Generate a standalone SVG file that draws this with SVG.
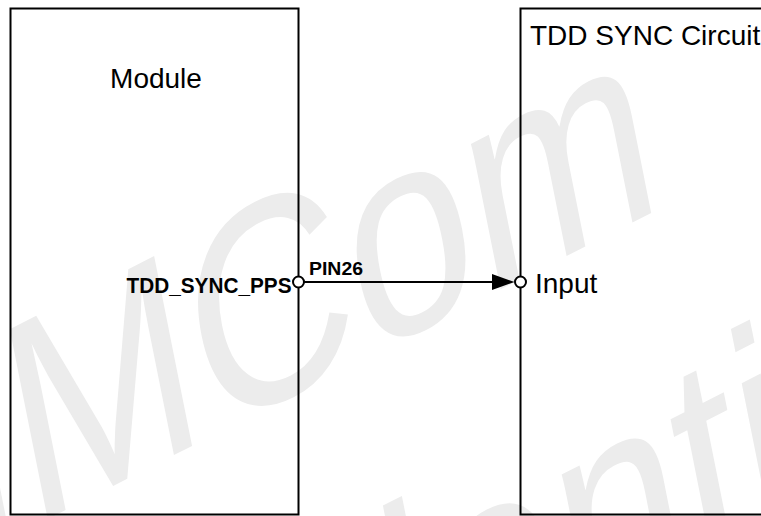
<svg xmlns="http://www.w3.org/2000/svg" width="761" height="516" viewBox="0 0 761 516">
<style>
.box{fill:none;stroke:#000;stroke-width:2}
.pin{fill:#fff;stroke:#000;stroke-width:2}
.lbl{font-family:"Liberation Sans",Arial,sans-serif;font-size:28px;fill:#000}
.blbl{font-family:"Liberation Sans",Arial,sans-serif;font-weight:bold;fill:#000}
.wm{font-family:"Liberation Sans",Arial,sans-serif;font-size:242px;fill:#ececec}
.wire{stroke:#000;stroke-width:2;fill:none}
</style>
<rect width="761" height="516" fill="#fff"/>
<g id="watermark" transform="translate(46,520) rotate(-26.9) skewX(-15.6) scale(1,1.12)">
<text class="wm" x="-246.6" y="0">SIMCom</text>
<text class="wm" x="-316" y="300">Confidential</text>
</g>
<g id="module">
<rect class="box" x="10.5" y="8.5" width="288" height="506"/>
<text class="lbl" x="156" y="88" text-anchor="middle">Module</text>
<text class="blbl" x="291.5" y="293" font-size="22" text-anchor="end" textLength="165" lengthAdjust="spacingAndGlyphs">TDD_SYNC_PPS</text>
<circle class="pin" cx="298.5" cy="282" r="5.5"/>
</g>
<g id="tdd-sync-circuit">
<rect class="box" x="520.5" y="8.5" width="270" height="506"/>
<text class="lbl" x="530" y="45">TDD SYNC Circuit</text>
<text class="lbl" x="535" y="293">Input</text>
</g>
<g id="connectors">
<line class="wire" x1="304" y1="282" x2="495" y2="282"/>
<polygon points="492,274 514.5,282 492,290" fill="#000"/>
<text class="blbl" x="309" y="275" font-size="19" textLength="54" lengthAdjust="spacingAndGlyphs">PIN26</text>
</g>
<circle class="pin" cx="520.5" cy="282" r="5.5"/>
</svg>
